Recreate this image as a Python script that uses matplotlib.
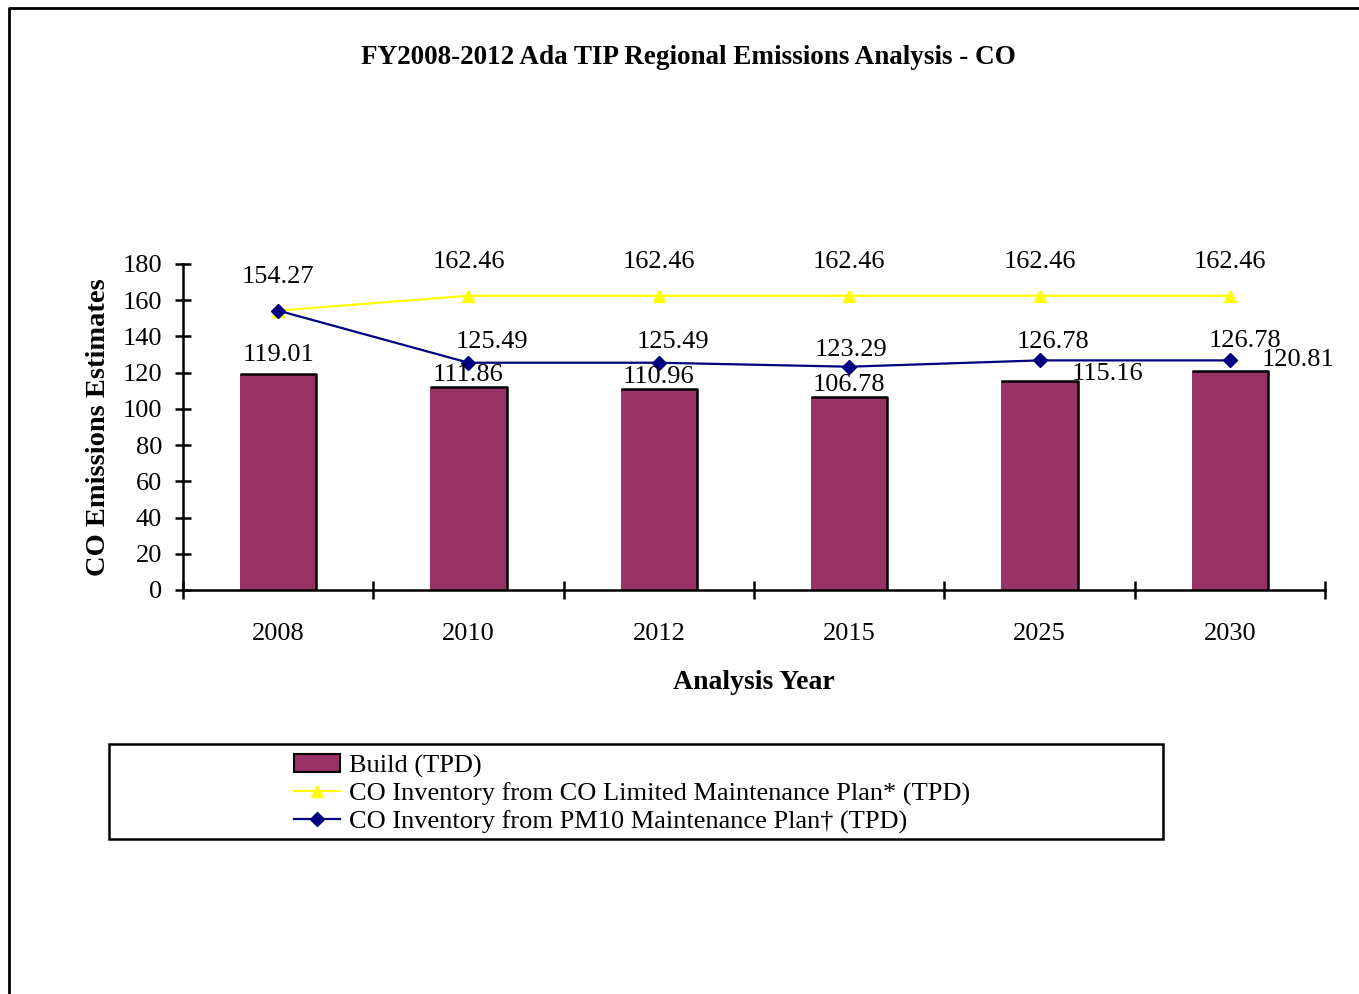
import matplotlib
matplotlib.use("Agg")
import matplotlib.pyplot as plt
from matplotlib.lines import Line2D
from matplotlib.patches import Rectangle, Patch

plt.rcParams['font.family'] = ['Liberation Serif', 'DejaVu Serif']

years = ["2008", "2010", "2012", "2015", "2025", "2030"]
build = [119.01, 111.86, 110.96, 106.78, 115.16, 120.81]
co_lmp = [154.27, 162.46, 162.46, 162.46, 162.46, 162.46]
pm10_mp = [154.27, 125.49, 125.49, 123.29, 126.78, 126.78]

title = "FY2008-2012 Ada TIP Regional Emissions Analysis - CO"
ylabel = "CO Emissions Estimates"
xlabel = "Analysis Year"
legend_labels = ["Build (TPD)",
                 "CO Inventory from CO Limited Maintenance Plan* (TPD)",
                 "CO Inventory from PM10 Maintenance Plan\u2020 (TPD)"]

W, H = 1359, 994
fig = plt.figure(figsize=(W / 100, H / 100), dpi=100)
ax = fig.add_axes([183 / W, 1 - 590 / H, (1325 - 183) / W, (590 - 264) / H])

x = list(range(len(years)))
bw = 0.4
ax.bar(x, build, width=bw, color="#993366", edgecolor="none", zorder=2)
for xi, v in zip(x, build):
    ax.plot([xi - bw / 2, xi + bw / 2, xi + bw / 2], [v, v, 0], color="black",
            lw=1.8, zorder=3, solid_capstyle="butt")

ax.plot(x, co_lmp, color="#FFFF00", lw=1.6, marker="^", ms=9, zorder=4)
ax.plot(x, pm10_mp, color="#000080", lw=1.6, marker="D", ms=7, zorder=5)

ax.set_xlim(-0.5, len(years) - 0.5)
ax.set_ylim(0, 180)
ax.set_yticks(range(0, 181, 20))
ax.set_xticks(x)
ax.set_xticklabels(years)
ax.set_xticks([i - 0.5 for i in range(len(years) + 1)], minor=True)

for s in ["top", "right"]:
    ax.spines[s].set_visible(False)
for s in ["left", "bottom"]:
    ax.spines[s].set_linewidth(1.8)

fs = 19
ax.tick_params(axis="y", direction="inout", length=12, width=1.8, labelsize=fs, pad=9)
ax.tick_params(axis="x", which="major", length=0, labelsize=fs, pad=23.5)
ax.tick_params(axis="x", which="minor", direction="inout", length=13, width=1.8)

ax.set_ylabel(ylabel, fontsize=20.5, fontweight="bold", labelpad=8)
ax.set_xlabel(xlabel, fontsize=20, fontweight="bold", labelpad=18)
fig.text(688 / W, 1 - 58 / H, title, ha="center", va="center",
         fontsize=19.5, fontweight="bold")

# Data labels (offsets in points)
bar_off = [(0, 14), (0, 9), (0, 9), (0, 8), (49, 5), (49, 8)]
for xi, v, (dx, dy) in zip(x, build, bar_off):
    ax.annotate(f"{v:.2f}", (xi, v), xytext=(dx, dy), textcoords="offset points",
                ha="center", va="center", fontsize=fs, zorder=6)
for xi, v in zip(x, co_lmp):
    ax.annotate(f"{v:.2f}", (xi, v), xytext=(0, 24), textcoords="offset points",
                ha="center", va="center", fontsize=fs, zorder=6)
pm_off = [None, (17, 15), (10, 15), (1, 12), (10, 13), (11, 14)]
for xi, v, off in zip(x, pm10_mp, pm_off):
    if off is None:
        continue
    ax.annotate(f"{v:.2f}", (xi, v), xytext=off, textcoords="offset points",
                ha="center", va="center", fontsize=fs, zorder=6)

# Legend box
fig.patches.append(Rectangle((109 / W, 1 - 839 / H), (1163 - 109) / W, (839 - 744) / H,
                             transform=fig.transFigure, fill=False, edgecolor="black",
                             lw=1.8))
handles = [Patch(facecolor="#993366", edgecolor="black", lw=1.5),
           Line2D([], [], color="#FFFF00", lw=1.6, marker="^", ms=9),
           Line2D([], [], color="#000080", lw=1.6, marker="D", ms=7)]
fig.legend(handles, legend_labels, loc="upper left",
           bbox_to_anchor=(294 / W, 1 - 754 / H), frameon=False, fontsize=19,
           handlelength=1.75, handletextpad=0.33, labelspacing=0.16, borderpad=0,
           borderaxespad=0)

# Outer chart border (clipped)
fig.add_artist(Line2D([9 / W, 9 / W, 1.0], [0, 1 - 8 / H, 1 - 8 / H],
                      transform=fig.transFigure, color="black", lw=2))

fig.savefig("out.png", dpi=100)
